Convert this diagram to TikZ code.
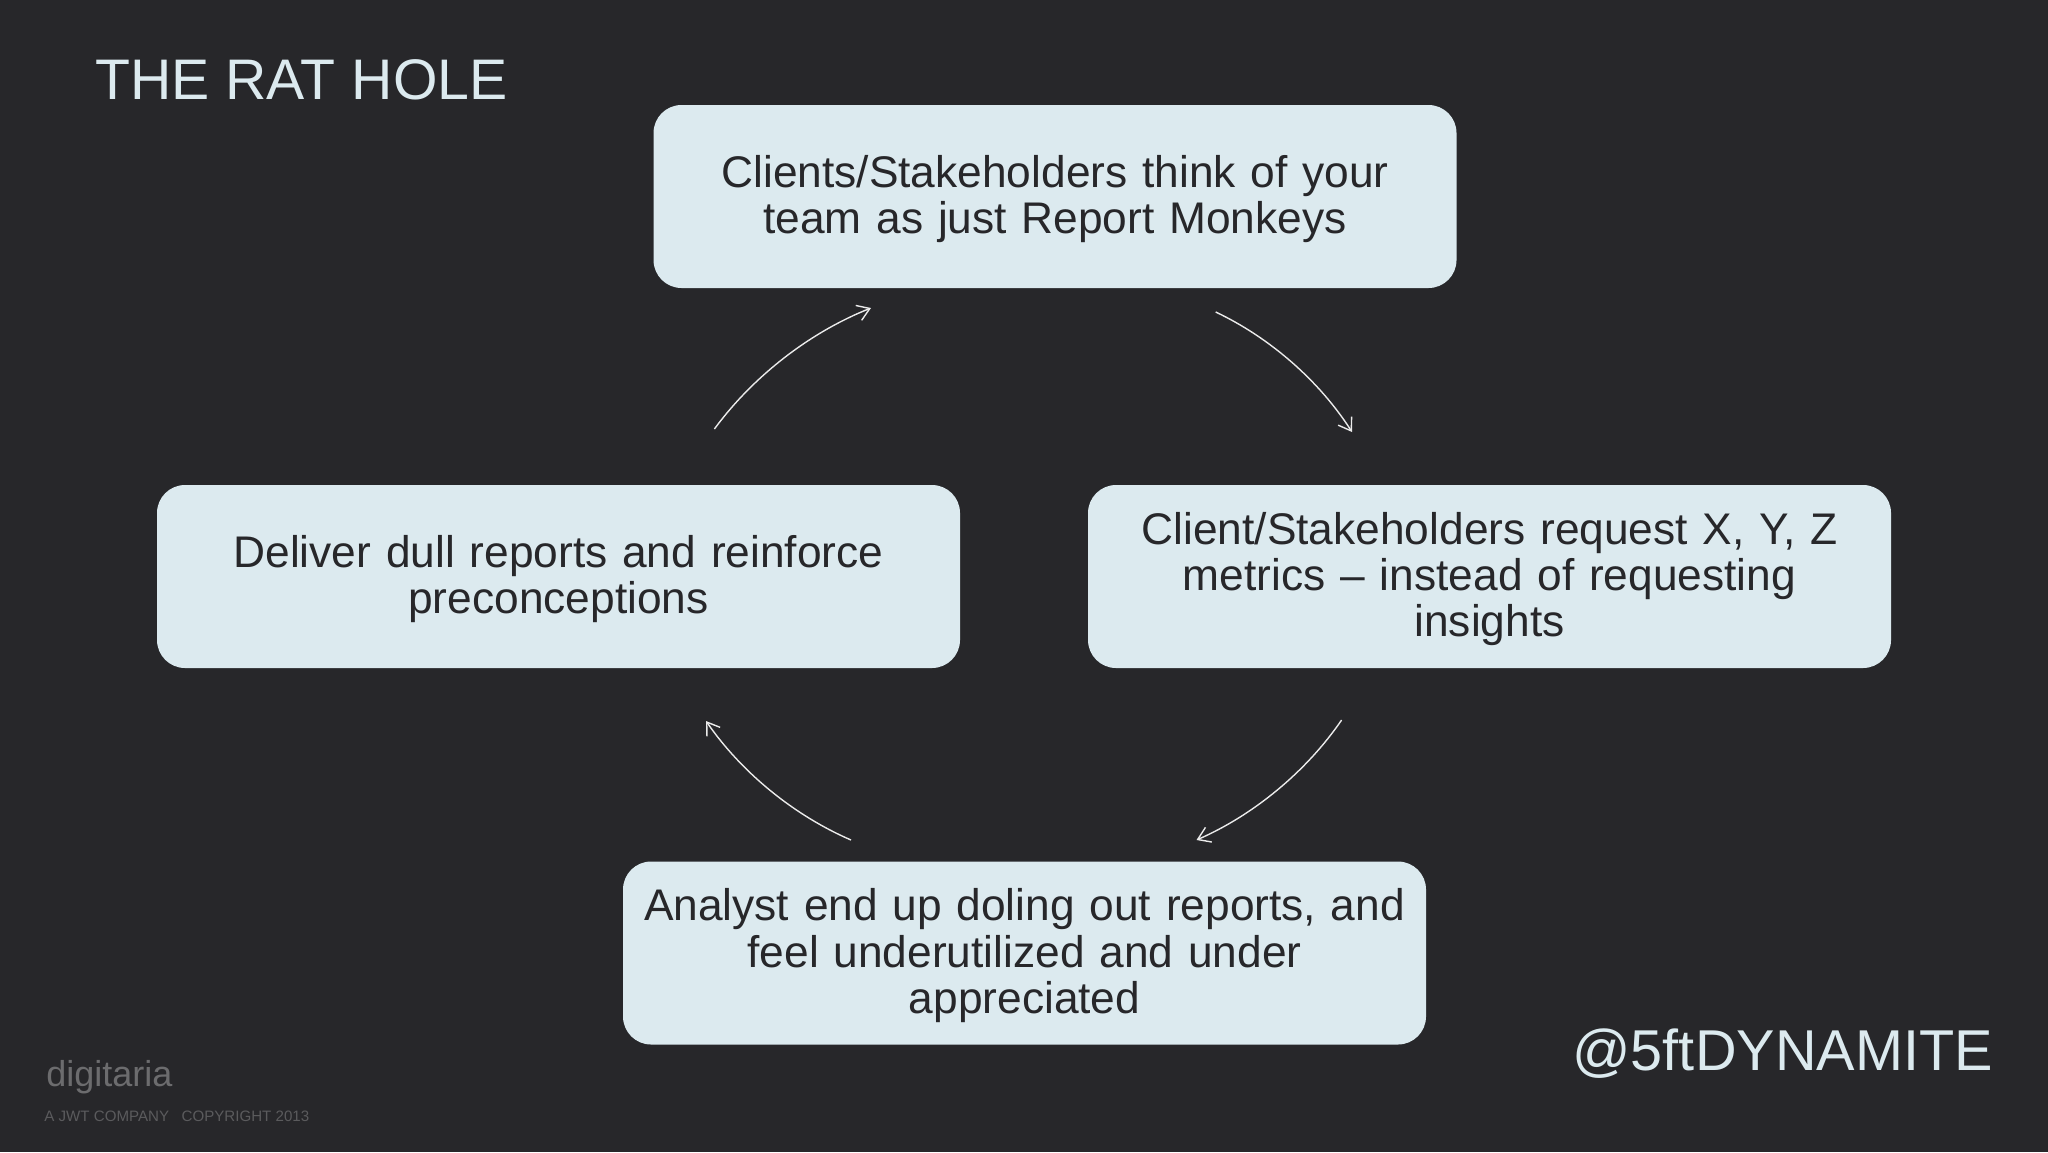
\documentclass[tikz,border=0pt]{standalone}
\usepackage{fontspec}
\setmainfont{Liberation Sans}
\usetikzlibrary{arrows.meta}
\definecolor{bgc}{HTML}{27272A}
\definecolor{boxc}{HTML}{DCEAEF}
\definecolor{inkc}{HTML}{27272A}
\newcommand{\cardtext}[1]{\raisebox{-1.3pt}[\height][\depth]{\parbox{398pt}{\centering #1}}}
\tikzset{
  card/.style={fill=boxc,rounded corners=14pt,minimum width=401.5pt,minimum height=91.5pt,text width=398pt,align=center,inner sep=0pt,text=inkc,font=\fontsize{22.15}{23.2}\selectfont},
  cyc/.style={draw=white!92!black,line width=0.7pt,-{Straight Barb[length=6pt,width=8pt,line width=0.7pt]}},
}
\begin{document}
\begin{tikzpicture}[x=0.5pt,y=-0.5pt]
\useasboundingbox[fill=bgc] (0,0) rectangle (2048,1152);
\node[anchor=base west,inner sep=0pt,text=boxc,font=\fontsize{28.6}{30}\selectfont] (title) at (95,99.5) {THE RAT HOLE};
\node[card] (top) at (1055,196.5) {\cardtext{Clients/Stakeholders think of your\\team as just Report Monkeys}};
\node[card] (right) at (1489.5,576.5) {\cardtext{Client/Stakeholders request X, Y, Z\\metrics – instead of requesting\\insights}};
\node[card] (left) at (558.5,576.5) {\cardtext{Deliver dull reports and reinforce\\preconceptions}};
\node[card] (bottom) at (1024.5,953) {\cardtext{Analyst end up doling out reports, and\\feel underutilized and under\\appreciated}};
\node[anchor=base east,inner sep=0pt,text=boxc,font=\fontsize{28.8}{30}\selectfont] (handle) at (1993,1070) {@5ftDYNAMITE};
\node[anchor=base west,inner sep=0pt,text=white!32!bgc,font=\fontsize{18}{19}\selectfont] (logo) at (46,1086) {digitaria};
\node[anchor=base west,inner sep=0pt,text=white!24!bgc,font=\fontsize{7.55}{9}\selectfont] (copy) at (44,1121) {A JWT COMPANY\ \ \ COPYRIGHT 2013};
\coordinate (a1) at (714.4,429);
\coordinate (a2) at (871,308);
\coordinate (b1) at (1215.7,312);
\coordinate (b2) at (1352,432);
\coordinate (c1) at (1341.6,720);
\coordinate (c2) at (1196.5,840);
\coordinate (d1) at (851,840);
\coordinate (d2) at (706,721);
\draw[cyc] (a1) to[bend left=16,looseness=0.85] (a2);
\draw[cyc] (b1) to[bend left=16,looseness=0.85] (b2);
\draw[cyc] (c1) to[bend left=16,looseness=0.85] (c2);
\draw[cyc] (d1) to[bend left=16,looseness=0.85] (d2);
\end{tikzpicture}
\end{document}
